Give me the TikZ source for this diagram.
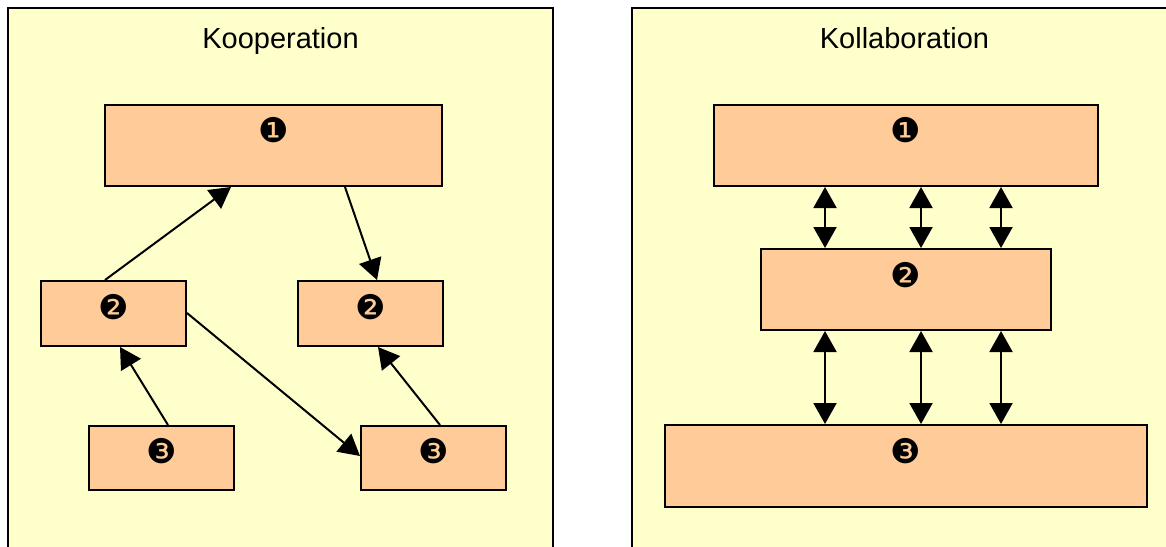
\documentclass[tikz,border=0pt]{standalone}
\usepackage{fontspec}
\setmainfont{Liberation Sans}
\newfontfamily\dingfont{DejaVu Sans}
\usetikzlibrary{arrows.meta,calc}
\definecolor{panelbg}{HTML}{FFFFCC}
\definecolor{boxbg}{HTML}{FFCC99}
\tikzset{
  panel/.style={draw=black, fill=panelbg, line width=1.5pt},
  title/.style={font=\fontsize{29}{34}\selectfont, inner sep=0pt, anchor=base},
  unit/.style={draw=black, fill=boxbg, line width=2pt, inner sep=0pt,
    anchor=north west},
  num/.style={font=\dingfont\fontsize{34}{34}\selectfont, inner sep=0pt, anchor=center},
  link/.style={line width=2pt, -{Triangle[length=21pt,width=23pt]}},
  dlink/.style={line width=2pt, {Triangle[length=21pt,width=23pt]}-{Triangle[length=21pt,width=23pt]}}
}
\begin{document}
\begin{tikzpicture}[x=1pt, y=-1pt]
  \useasboundingbox (0,0) rectangle (1166,546);
  \clip (0,0) rectangle (1166,546);

  % two panels, running off the lower and right edges
  \draw[panel] (8,8) rectangle (553,570);
  \draw[panel] (632,8) rectangle (1190,570);

  \node[title] (tk) at (280.5,48) {Kooperation};
  \node[title] (tl) at (904.5,48) {Kollaboration};

  % ---- Kooperation ----
  \node[unit, minimum width=337pt, minimum height=81pt] (k1) at (104,104) {};
  \node[unit, minimum width=145pt, minimum height=65pt] (k2a) at (40,280) {};
  \node[unit, minimum width=145pt, minimum height=65pt] (k2b) at (297,280) {};
  \node[unit, minimum width=145pt, minimum height=64pt] (k3a) at (88,425) {};
  \node[unit, minimum width=145pt, minimum height=64pt] (k3b) at (360,425) {};

  \node[num] (nk1)  at ($(k1.north)+(0,26.5)$)  {❶};
  \node[num] (nk2a) at ($(k2a.north)+(0,27)$)   {❷};
  \node[num] (nk2b) at ($(k2b.north)+(0,27)$)   {❷};
  \node[num] (nk3a) at ($(k3a.north)+(0,26)$)   {❸};
  \node[num] (nk3b) at ($(k3b.north)+(0,26)$)   {❸};

  \draw[link] ($(k2a.north west)+(65,0)$) -- ($(k1.south west)+(127,0)$);
  \draw[link] ($(k1.south west)+(241,0)$) -- ($(k2b.north west)+(80,0)$);
  \draw[link] ($(k2a.north east)+(0,33)$) -- ($(k3b.north west)+(0,31)$);
  \draw[link] ($(k3a.north west)+(80,0)$) -- ($(k2a.south west)+(80,0)$);
  \draw[link] ($(k3b.north west)+(80,0)$) -- ($(k2b.south west)+(81,0)$);

  % ---- Kollaboration ----
  \node[unit, minimum width=384pt, minimum height=81pt] (c1) at (713,104) {};
  \node[unit, minimum width=290pt, minimum height=81pt] (c2) at (760,248) {};
  \node[unit, minimum width=482pt, minimum height=82pt] (c3) at (664,424) {};

  \node[num] (nc1) at ($(c1.north)+(0,26.5)$) {❶};
  \node[num] (nc2) at ($(c2.north)+(0,27.5)$) {❷};
  \node[num] (nc3) at ($(c3.north)+(0,27)$)   {❸};

  \coordinate (xa) at (825,0);
  \coordinate (xb) at (921,0);
  \coordinate (xc) at (1001,0);
  \foreach \col in {xa,xb,xc} {
    \draw[dlink] (c1.south -| \col) -- (c2.north -| \col);
    \draw[dlink] (c2.south -| \col) -- (c3.north -| \col);
  }
\end{tikzpicture}
\end{document}
